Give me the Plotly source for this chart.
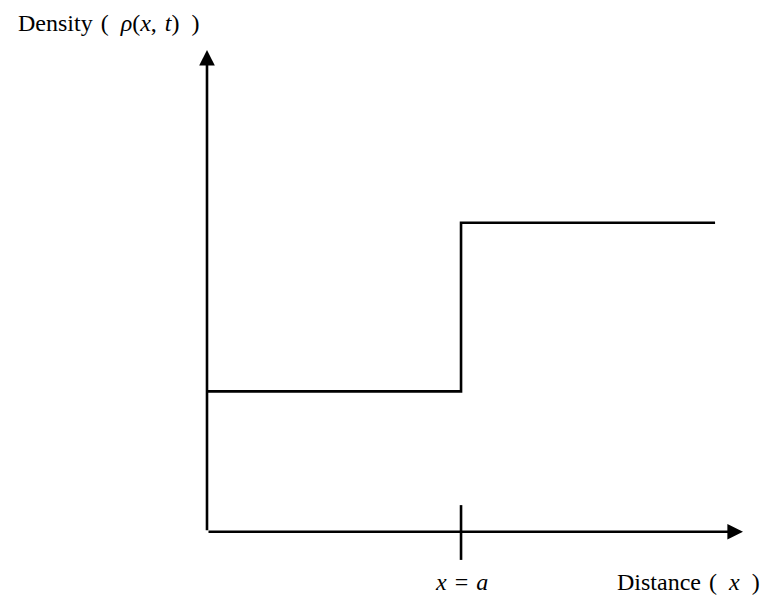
import plotly.graph_objects as go

# Piecewise-constant initial density: low to the left of x = a, high to the right
x_points = [0, 5, 10]          # start, jump location a, end of the drawn profile
density = [1.0, 2.2, 2.2]      # rho(x, t) values at those points
jump_x = 5                     # x = a
x_axis_end = 10.55
y_axis_end = 3.43

FONT = dict(family="Liberation Serif, Times New Roman, serif", size=24, color="black")
LINE_W = 2.6
SP = "\u2004"   # three-per-em space, for TeX-like spacing
EN = "\u2002"   # en space

fig = go.Figure()
fig.add_trace(go.Scatter(
    x=x_points, y=density, mode="lines",
    line=dict(color="black", width=LINE_W, shape="hv"),
    hoverinfo="skip", showlegend=False,
))

# Coordinate axes drawn as arrows
fig.add_annotation(x=x_axis_end, y=0, ax=0, ay=0, xref="x", yref="y", axref="x", ayref="y",
                   showarrow=True, arrowhead=2, arrowsize=1.2, arrowwidth=LINE_W,
                   arrowcolor="black", text="")
fig.add_annotation(x=0, y=y_axis_end, ax=0, ay=0, xref="x", yref="y", axref="x", ayref="y",
                   showarrow=True, arrowhead=2, arrowsize=1.2, arrowwidth=LINE_W,
                   arrowcolor="black", text="")

# Tick mark at the jump
fig.add_shape(type="line", x0=jump_x, x1=jump_x, y0=-0.2, y1=0.19,
              xref="x", yref="y", line=dict(color="black", width=LINE_W))

fig.add_annotation(x=jump_x, y=-0.355, xref="x", yref="y", showarrow=False,
                   text=f"<i>x</i>{SP}={SP}<i>a</i>", font=FONT,
                   xanchor="center", yanchor="middle")
fig.add_annotation(x=688, y=608 - 582, xref="paper", yref="paper", showarrow=False,
                   text=f"Distance{SP}({EN}<i>x</i>{EN})", font=FONT,
                   xanchor="center", yanchor="middle")
fig.add_annotation(x=109, y=608 - 23, xref="paper", yref="paper", showarrow=False,
                   text=f"Density{SP}({EN}<i>ρ</i>(<i>x</i>,{SP}<i>t</i>){EN})", font=FONT,
                   xanchor="center", yanchor="middle")

fig.update_layout(
    width=770, height=608,
    margin=dict(l=207, r=770 - 743, t=50, b=20),
    paper_bgcolor="white", plot_bgcolor="white",
    xaxis=dict(range=[0, x_axis_end], visible=False),
    yaxis=dict(range=[-0.4, y_axis_end], visible=False),
)

# Paper-coordinate labels were given in pixels; convert to paper fractions
pw, ph = 770 - 207 - 27, 608 - 50 - 20
for ann in fig.layout.annotations:
    if ann.xref == "paper":
        ann.x = (ann.x - 207) / pw
        ann.y = (ann.y - 20) / ph

fig.write_html("out.html")
